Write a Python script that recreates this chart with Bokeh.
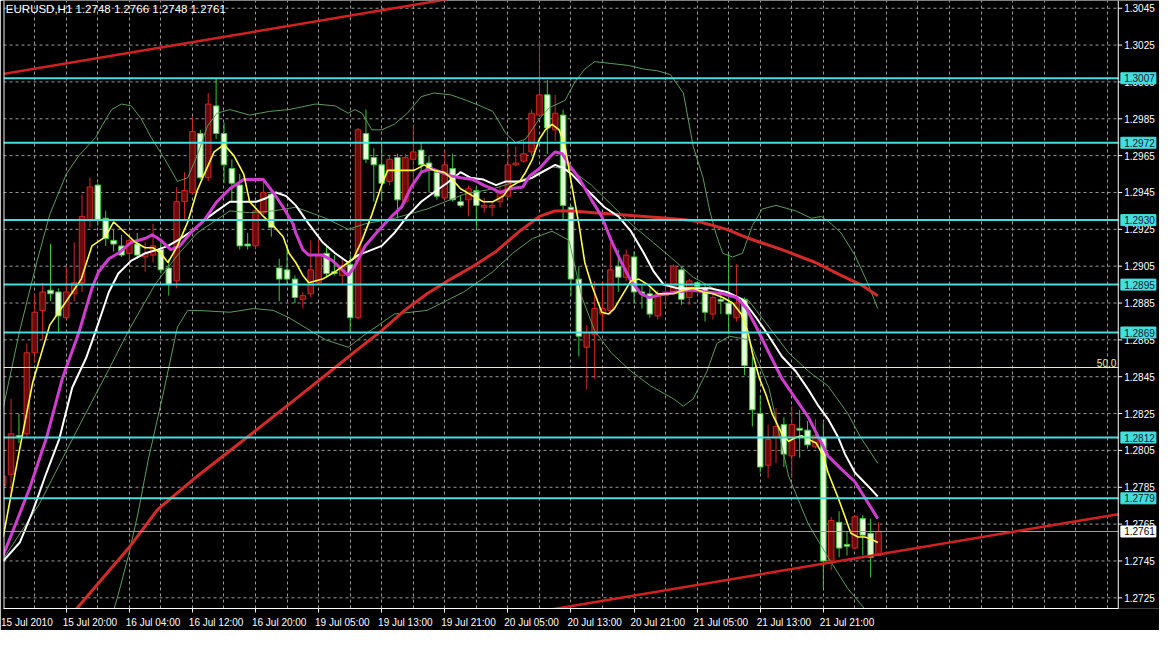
from bokeh.plotting import figure
from bokeh.models import Range1d, FixedTicker
from bokeh.core.properties import value
from bokeh.embed import file_html
from bokeh.resources import INLINE

TITLE = "EURUSD,H1  1.2748 1.2766 1.2748 1.2761"

OPEN = [1.2786,1.2792,1.2813,1.2814,1.2858,1.2881,1.2892,1.2891,1.2877,1.2890,
        1.2896,1.2930,1.2949,1.2931,1.2919,1.2916,1.2912,1.2917,1.2910,1.2911,
        1.2914,1.2904,1.2897,1.2940,1.2945,1.2977,1.2953,1.2992,1.2977,1.2958,
        1.2949,1.2917,1.2916,1.2934,1.2944,1.2904,1.2903,1.2898,1.2887,1.2890,
        1.2896,1.2912,1.2902,1.2900,1.2906,1.2877,1.2977,1.2964,1.2960,1.2951,
        1.2964,1.2940,1.2963,1.2968,1.2961,1.2956,1.2942,1.2958,1.2940,1.2941,
        1.2946,1.2937,1.2937,1.2940,1.2943,1.2960,1.2962,1.2967,1.2987,1.2998,
        1.2979,1.2987,1.2937,1.2898,1.2861,1.2868,1.2879,1.2881,1.2905,1.2899,
        1.2910,1.2891,1.2890,1.2878,1.2889,1.2891,1.2903,1.2888,1.2896,1.2893,
        1.2879,1.2887,1.2885,1.2877,1.2887,1.2850,1.2825,1.2797,1.2812,1.2819,
        1.2802,1.2817,1.2816,1.2807,1.2812,1.2745,1.2766,1.2754,1.2752,1.2768,
        1.2760,1.2748]
HIGH = [1.2802,1.2833,1.2825,1.2863,1.2890,1.2896,1.2917,1.2893,1.2905,1.2918,
        1.2944,1.2953,1.2950,1.2935,1.2925,1.2922,1.2920,1.2923,1.2918,1.2928,
        1.2918,1.2909,1.2948,1.2956,1.2986,1.2979,1.2999,1.3007,1.2983,1.2963,
        1.2955,1.2923,1.2940,1.2953,1.2946,1.2909,1.2917,1.2900,1.2891,1.2919,
        1.2919,1.2916,1.2911,1.2909,1.2911,1.2980,1.2990,1.2969,1.2971,1.2965,
        1.2966,1.2966,1.2982,1.2972,1.2965,1.2957,1.2968,1.2966,1.2943,1.2949,
        1.2948,1.2942,1.2940,1.2948,1.2970,1.2970,1.2973,1.2990,1.3028,1.3006,
        1.2998,1.2990,1.2938,1.2905,1.2873,1.2897,1.2897,1.2918,1.2914,1.2914,
        1.2913,1.2895,1.2893,1.2892,1.2897,1.2906,1.2905,1.2898,1.2897,1.2895,
        1.2890,1.2890,1.2912,1.2906,1.2888,1.2856,1.2835,1.2819,1.2828,1.2823,
        1.2829,1.2827,1.2821,1.2822,1.2820,1.2769,1.2772,1.2761,1.2770,1.2770,
        1.2768,1.2766]
LOW = [1.2772,1.2781,1.2809,1.2812,1.2853,1.2865,1.2886,1.2869,1.2876,1.2886,
       1.2891,1.2926,1.2927,1.2916,1.2913,1.2910,1.2906,1.2909,1.2902,1.2907,
       1.2901,1.2889,1.2893,1.2930,1.2944,1.2952,1.2951,1.2974,1.2950,1.2940,
       1.2914,1.2914,1.2914,1.2933,1.2921,1.2886,1.2895,1.2885,1.2882,1.2888,
       1.2895,1.2899,1.2900,1.2895,1.2869,1.2876,1.2961,1.2940,1.2940,1.2949,
       1.2931,1.2939,1.2947,1.2956,1.2945,1.2941,1.2941,1.2940,1.2937,1.2932,
       1.2926,1.2934,1.2932,1.2937,1.2942,1.2959,1.2961,1.2965,1.2986,1.2966,
       1.2973,1.2930,1.2889,1.2856,1.2838,1.2844,1.2869,1.2879,1.2891,1.2897,
       1.2885,1.2882,1.2877,1.2876,1.2883,1.2890,1.2884,1.2884,1.2893,1.2875,
       1.2876,1.2879,1.2868,1.2875,1.2846,1.2818,1.2793,1.2790,1.2798,1.2796,
       1.2790,1.2801,1.2806,1.2806,1.2730,1.2740,1.2747,1.2748,1.2751,1.2748,
       1.2736,1.2748]
CLOSE = [1.2791,1.2814,1.2812,1.2858,1.2880,1.2891,1.2890,1.2878,1.2891,1.2896,
         1.2932,1.2948,1.2930,1.2920,1.2917,1.2911,1.2919,1.2911,1.2912,1.2916,
         1.2903,1.2895,1.2940,1.2946,1.2978,1.2953,1.2993,1.2977,1.2960,1.2950,
         1.2916,1.2916,1.2935,1.2945,1.2926,1.2898,1.2898,1.2888,1.2889,1.2903,
         1.2911,1.2901,1.2901,1.2905,1.2877,1.2979,1.2963,1.2960,1.2950,1.2963,
         1.2941,1.2964,1.2967,1.2960,1.2957,1.2943,1.2960,1.2941,1.2938,1.2947,
         1.2938,1.2938,1.2938,1.2945,1.2960,1.2961,1.2966,1.2988,1.2998,1.2980,
         1.2988,1.2938,1.2898,1.2867,1.2869,1.2882,1.2882,1.2903,1.2899,1.2911,
         1.2891,1.2890,1.2879,1.2890,1.2891,1.2905,1.2887,1.2897,1.2894,1.2880,
         1.2888,1.2886,1.2879,1.2885,1.2851,1.2827,1.2796,1.2811,1.2818,1.2803,
         1.2819,1.2816,1.2808,1.2813,1.2745,1.2767,1.2752,1.2753,1.2769,1.2759,
         1.2747,1.2761]
BARS = list(range(len(OPEN)))

X_TICK_BARS = [0, 8, 16, 24, 32, 40, 48, 56, 64, 72, 80, 88, 96, 104]
X_TICK_LABELS = ["15 Jul 2010", "15 Jul 20:00", "16 Jul 04:00", "16 Jul 12:00", "16 Jul 20:00",
                 "19 Jul 05:00", "19 Jul 13:00", "19 Jul 21:00", "20 Jul 05:00", "20 Jul 13:00",
                 "20 Jul 21:00", "21 Jul 05:00", "21 Jul 13:00", "21 Jul 21:00"]
Y_TICKS = [1.2725, 1.2745, 1.2765, 1.2785, 1.2805, 1.2825, 1.2845, 1.2865, 1.2885,
           1.2905, 1.2925, 1.2945, 1.2965, 1.2985, 1.3005, 1.3025, 1.3045]
Y_TICK_LABELS = [f"{t:.4f}" for t in Y_TICKS]

MA_YEL_X = [0,2.1,3.75,5.9,8,9.9,11.25,13,14,15.5,16.75,18,19,20,20.9,22.1,23.4,24.6,25.5,26.75,28,
            29.25,30.5,31.25,33,34.25,35.5,36.25,37.1,38,38.75,40.5,42.1,43.75,44.4,45.5,46.75,48,
            48.75,50.5,52.1,53.4,54.6,55.9,56.75,58,59.6,60.9,62.1,63.4,64.25,65.5,66.25,67.1,68,
            68.75,69.6,70.5,71.25,72.1,73,73.75,74.6,75.9,76.75,77.5,78.6,79.6,80.6,81.75,83,84,85,
            86.25,87.5,88.75,90,91.25,92.5,93.6,94.4,95,95.9,96.75,97.5,98.75,99.6,100.5,101.25,
            102.1,103.1,104,104.6,105.9,106.75,107.5,108.4,109.25,110,110.9]
MA_YEL = [1.2758,1.2806,1.2842,1.2873,1.2886,1.2898,1.2916,1.2921,1.2929,1.2923,1.2918,1.2915,1.2915,
          1.2912,1.2907,1.2916,1.2929,1.2946,1.2955,1.2967,1.2971,1.2965,1.2955,1.2940,1.2932,1.2927,
          1.2921,1.2912,1.2907,1.2900,1.2896,1.2898,1.2902,1.2907,1.2909,1.2919,1.2933,1.2949,1.2957,
          1.2957,1.2957,1.2960,1.2957,1.2956,1.2953,1.2947,1.2943,1.2940,1.2940,1.2943,1.2948,1.2951,
          1.2956,1.2963,1.2974,1.2979,1.2982,1.2979,1.2970,1.2949,1.2928,1.2907,1.2895,1.2880,1.2879,
          1.2882,1.2890,1.2897,1.2898,1.2895,1.2890,1.2890,1.2890,1.2892,1.2893,1.2891,1.2890,1.2888,
          1.2885,1.2879,1.2870,1.2858,1.2844,1.2835,1.2825,1.2814,1.2810,1.2812,1.2813,1.2811,1.2809,
          1.2802,1.2793,1.2779,1.2769,1.2760,1.2758,1.2758,1.2757,1.2755]

MA_MAG_X = [0,1.75,3.4,5.5,7.5,9.6,11.25,12.1,13.4,14.6,16.25,18,18.9,20,21.25,22.4,23.75,25.5,27.1,
            28.75,30.5,33,34.25,35.5,36.75,37.1,38,38.75,40.5,41.75,43,43.75,44.6,45.9,47.5,49.25,
            50.5,51.75,53,54.25,55.5,56.75,58,59.6,60.9,62.1,63,64.25,65.9,66.75,68,69.25,70,70.9,
            71.75,73,74.6,75.9,77.1,78.4,79.6,80.9,81.9,83,84,85.5,87.1,89.25,91.25,93,94.25,95.5,
            97.1,98.75,100.5,102.1,103.4,104.6,106.25,108,109.6,110.9]
MA_MAG = [1.2748,1.2767,1.2785,1.2812,1.2844,1.2869,1.2893,1.2902,1.2909,1.2912,1.2918,1.2920,1.2922,
          1.2919,1.2914,1.2916,1.2923,1.2930,1.2940,1.2947,1.2952,1.2952,1.2945,1.2937,1.2928,1.2923,
          1.2914,1.2911,1.2911,1.2908,1.2903,1.2900,1.2905,1.2916,1.2924,1.2932,1.2937,1.2948,1.2956,
          1.2958,1.2956,1.2954,1.2953,1.2952,1.2949,1.2947,1.2945,1.2947,1.2948,1.2954,1.2958,1.2964,
          1.2967,1.2966,1.2960,1.2953,1.2941,1.2932,1.2919,1.2907,1.2897,1.2890,1.2888,1.2889,1.2890,
          1.2891,1.2892,1.2891,1.2890,1.2888,1.2882,1.2872,1.2858,1.2844,1.2833,1.2823,1.2812,1.2802,
          1.2795,1.2788,1.2777,1.2768]

MA_WHT_X = [0,2.1,3.75,5.5,7.1,8.75,10.5,11.75,13.4,14.6,16.25,18,19.6,20.9,22.5,24.25,25.5,27.1,
            28.75,30.5,32.1,33.4,34.6,35.9,37.1,38.75,40.5,42.1,43.75,45,46.25,48,49.6,51.25,53,
            54.6,56.25,58,59.25,60.9,62.5,63.75,65.5,67.1,68.75,70,71.1,72.1,73.4,74.6,76.25,78,
            79.6,81.25,82.5,83.75,85.5,87.5,89.6,91.75,93.75,95.5,97.1,98.75,100.5,102.1,103.4,
            104.6,105.9,106.75,108,109.6,110.9]
MA_WHT = [1.2745,1.2755,1.2772,1.2793,1.2811,1.2839,1.2855,1.2870,1.2891,1.2901,1.2908,1.2912,1.2914,
          1.2916,1.2920,1.2925,1.2930,1.2935,1.2940,1.2940,1.2940,1.2942,1.2945,1.2943,1.2938,1.2928,
          1.2918,1.2912,1.2907,1.2911,1.2913,1.2916,1.2923,1.2932,1.2940,1.2945,1.2950,1.2956,1.2953,
          1.2952,1.2949,1.2951,1.2951,1.2953,1.2957,1.2960,1.2958,1.2955,1.2949,1.2944,1.2937,1.2932,
          1.2924,1.2912,1.2902,1.2895,1.2893,1.2893,1.2893,1.2891,1.2887,1.2877,1.2867,1.2856,1.2848,
          1.2838,1.2829,1.2822,1.2812,1.2803,1.2793,1.2786,1.2780]

MA_RED_X = [7.9,12.1,15.9,19.6,24.6,30.9,37.1,42.1,45,48,50.9,53.75,56.75,59.6,62.5,65.5,68,70,72.1,
            75,78,81.25,84.25,86.75,88.4,91.75,94.6,98.75,103,106.25,108.75,110.9]
MA_RED = [1.2712,1.2733,1.2752,1.2773,1.2791,1.2812,1.2833,1.2850,1.2860,1.2870,1.2881,1.2890,1.2898,
          1.2905,1.2913,1.2924,1.2932,1.2935,1.2935,1.2934,1.2933,1.2932,1.2931,1.2930,1.2929,1.2925,
          1.2920,1.2914,1.2907,1.2900,1.2895,1.2889]

BB_UP_X = [0,2.1,4.25,5.9,8,9.6,11.75,12.5,13.75,15,16.25,17.5,18.75,20.5,22.1,23.4,24.6,25.9,27.1,
           28.75,31.25,33.75,36.25,39.6,42.1,43.75,44.6,45.5,46.75,48,49.6,51.25,53,54.6,56.75,58.75,
           60.5,62.1,63.75,65,66.25,68,69.25,71.25,72.5,73.75,75,77.1,79.25,81.25,83,84.6,86.25,87.5,
           88.75,89.6,90.5,91.25,92.5,93.75,95,96.25,98,100.5,102.5,103.75,105,106.25,108,109.6,110.9]
BB_UP = [1.2828,1.2870,1.2907,1.2933,1.2955,1.2965,1.2975,1.2981,1.2990,1.2993,1.2992,1.2985,1.2975,
         1.2963,1.2951,1.2953,1.2965,1.2981,1.2988,1.2990,1.2987,1.2989,1.2990,1.2993,1.2992,1.2988,
         1.2990,1.2988,1.2979,1.2979,1.2982,1.2988,1.2997,1.2999,1.2998,1.2995,1.2992,1.2989,1.2977,
         1.2972,1.2974,1.2985,1.2991,1.2995,1.3005,1.3012,1.3016,1.3015,1.3014,1.3012,1.3011,1.3009,
         1.2999,1.2970,1.2953,1.2935,1.2921,1.2912,1.2910,1.2912,1.2927,1.2936,1.2938,1.2935,1.2931,
         1.2932,1.2928,1.2923,1.2911,1.2896,1.2882]
BB_MID_X = [0,4.6,9.6,13.4,15.9,19.25,22.1,24.6,28.75,31.25,34.25,37.1,40.9,43.75,45.9,49.6,53.75,
            58.4,62.1,65.9,69.6,72.1,74.6,79.6,84.6,87.5,90.9,94.6,97.1,99.6,102.1,104.6,107.1,
            108.75,110.9]
BB_MID = [1.2746,1.2776,1.2818,1.2849,1.2870,1.2895,1.2911,1.2923,1.2935,1.2934,1.2935,1.2937,1.2931,
          1.2925,1.2928,1.2931,1.2936,1.2944,1.2947,1.2952,1.2959,1.2957,1.2949,1.2928,1.2910,1.2899,
          1.2891,1.2886,1.2872,1.2858,1.2848,1.2840,1.2825,1.2812,1.2798]
BB_LO_X = [13.6,14.6,15.9,17.1,18.4,20.25,22.1,23.4,24.6,28.75,31.75,34.25,36.25,40.9,43.75,45.9,
           49.6,53.75,58.4,62.1,64.6,67.1,69.6,71.75,73.4,75,77.1,79.6,82.1,85,86.25,87.5,89.25,
           90.5,92.1,94.6,97.1,99.6,102.1,104.6,107.1,109.25,110.9]
BB_LO = [1.2712,1.2727,1.2748,1.2771,1.2800,1.2835,1.2872,1.2881,1.2881,1.2880,1.2882,1.2881,1.2877,
         1.2865,1.2861,1.2868,1.2879,1.2881,1.2891,1.2902,1.2912,1.2920,1.2924,1.2919,1.2888,1.2870,
         1.2858,1.2848,1.2840,1.2833,1.2829,1.2833,1.2848,1.2863,1.2867,1.2865,1.2839,1.2791,1.2765,
         1.2747,1.2730,1.2719,1.2712]

LEVELS = [1.3007, 1.2972, 1.2930, 1.2895, 1.2869, 1.2812, 1.2779]
LEVEL_LABELS = [f"{v:.4f}" for v in LEVELS]
FIB50 = 1.2850
FIB50_TEXT = "50.0"
BID = 1.2761
BID_LABEL = f"{BID:.4f}"

TL_UP_X = [-0.4, 56.5]
TL_UP_Y = [1.3009, 1.3050]
TL_LO_X = [68.0, 141.4]
TL_LO_Y = [1.27176, 1.27704]

# ---- layout ----
X0, AXIS_X, XR = 0.04, 141.4, 146.63
Y0, Y1 = 1.27192, 1.30492
CYAN = "#45dede"
FONT = "Liberation Sans"
GRID = "#9a9a9a"

p = figure(width=1159, height=630, output_backend="svg", toolbar_location=None,
           x_range=Range1d(X0, XR), y_range=Range1d(Y0, Y1), y_axis_location=None,
           background_fill_color="black", border_fill_color="black",
           min_border_left=3, min_border_right=0, min_border_top=0, min_border_bottom=0)
p.outline_line_color = None

p.xgrid.ticker = FixedTicker(ticks=list(range(4, 141, 4)))
p.xgrid.grid_line_color = GRID
p.xgrid.grid_line_dash = "3 3"
p.ygrid.grid_line_color = None

xax = p.xaxis[0]
centers = [b + 3 for b in X_TICK_BARS]
xax.ticker = FixedTicker(ticks=centers, minor_ticks=X_TICK_BARS)
xax.major_label_overrides = {c: t for c, t in zip(centers, X_TICK_LABELS)}
xax.bounds = (X0, AXIS_X)
xax.axis_line_color = "white"
xax.major_tick_line_color = None
xax.minor_tick_line_color = "white"
xax.minor_tick_in = 0
xax.minor_tick_out = 4
xax.major_label_text_color = "white"
xax.major_label_text_font = FONT
xax.major_label_text_font_size = "10px"
xax.major_label_standoff = 2

# horizontal grid (stops at the price axis)
p.segment(x0=X0, x1=AXIS_X, y0=Y_TICKS, y1=Y_TICKS, line_color=GRID, line_dash="3 3", line_width=1)

# candles
bull = [c >= o for o, c in zip(OPEN, CLOSE)]
src = dict(x=BARS, high=HIGH, low=LOW,
           top=[max(o, c) for o, c in zip(OPEN, CLOSE)],
           bottom=[min(o, c) for o, c in zip(OPEN, CLOSE)],
           line=["#d42424" if b else "#3cc83c" for b in bull],
           fill=["#6a0c0c" if b else "#e6ffd8" for b in bull])
p.segment(x0="x", y0="high", x1="x", y1="low", line_color="line", line_width=1, source=src)
p.vbar(x="x", width=0.7, top="top", bottom="bottom", fill_color="fill", line_color="line",
       line_width=1, source=src)

for xs, ys in ((BB_UP_X, BB_UP), (BB_MID_X, BB_MID), (BB_LO_X, BB_LO)):
    p.line(xs, ys, line_color="#5c9a5c", line_width=1)
p.line(MA_RED_X, MA_RED, line_color="#d42a2a", line_width=3)
p.line(MA_WHT_X, MA_WHT, line_color="white", line_width=2)
p.line(MA_MAG_X, MA_MAG, line_color="#d03cd0", line_width=3)
p.line(MA_YEL_X, MA_YEL, line_color="#ffff40", line_width=1.6)

# horizontal levels
p.segment(x0=X0, x1=AXIS_X, y0=FIB50, y1=FIB50, line_color="#eeeeaa", line_width=1)
p.segment(x0=X0, x1=AXIS_X, y0=BID, y1=BID, line_color="#a0a0a0", line_width=1)
p.segment(x0=X0, x1=AXIS_X, y0=LEVELS, y1=LEVELS, line_color=CYAN, line_width=2)

p.line(TL_UP_X, TL_UP_Y, line_color="#d42020", line_width=2.5)
p.line(TL_LO_X, TL_LO_Y, line_color="#d42020", line_width=2.5)

# frame borders and price axis
p.segment(x0=0.1, x1=0.1, y0=Y0, y1=Y1, line_color="white", line_width=1)
p.segment(x0=AXIS_X, x1=AXIS_X, y0=Y0, y1=Y1, line_color="white", line_width=1)
p.segment(x0=AXIS_X, x1=AXIS_X + 0.5, y0=Y_TICKS, y1=Y_TICKS, line_color="white", line_width=1)
p.text(x=AXIS_X + 0.75, y=Y_TICKS, text=Y_TICK_LABELS, text_color="white",
       text_font=value(FONT), text_font_size="10px", text_baseline="middle", text_align="left")

# level tags on the axis
p.rect(x=AXIS_X + 2.55, y=LEVELS, width=35, height=11, width_units="screen",
       height_units="screen", fill_color=CYAN, line_color=CYAN)
p.text(x=AXIS_X + 0.75, y=LEVELS, text=LEVEL_LABELS, text_color="#102030",
       text_font=value(FONT), text_font_size="10px", text_baseline="middle", text_align="left")
p.rect(x=AXIS_X + 2.55, y=BID, width=35, height=11, width_units="screen",
       height_units="screen", fill_color="white", line_color="white")
p.text(x=AXIS_X + 0.75, y=BID, text=[BID_LABEL], text_color="black",
       text_font=value(FONT), text_font_size="10px", text_baseline="middle", text_align="left")

# fib label and title
p.text(x=AXIS_X - 0.25, y=FIB50, text=[FIB50_TEXT], text_color="#eeeeaa", y_offset=-1,
       text_font=value(FONT), text_font_size="10px", text_baseline="bottom", text_align="right")
p.text(x=X0 + 0.3, y=Y1, text=[TITLE], text_color="white", y_offset=2,
       text_font=value(FONT), text_font_size="11.5px", text_baseline="top", text_align="left")

open("out.html", "w").write(file_html(p, INLINE))
